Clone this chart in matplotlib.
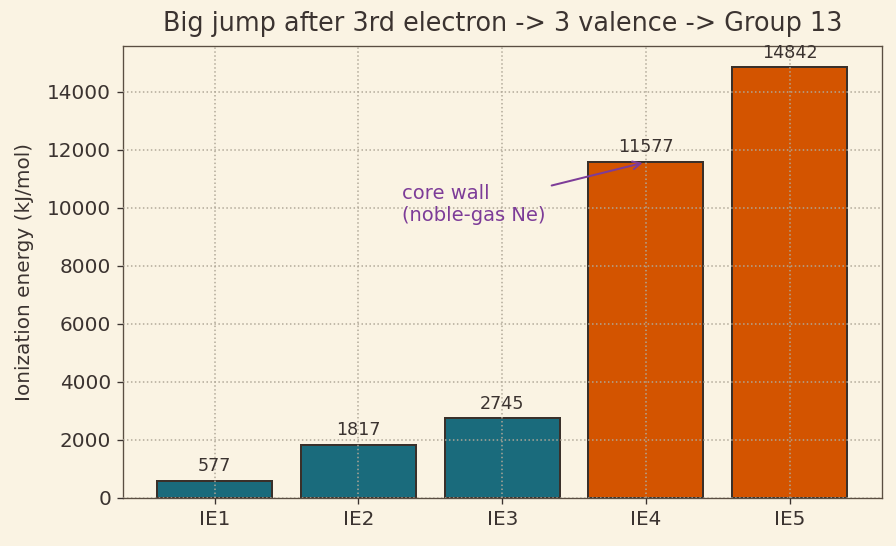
import numpy as np
from matplotlib import pyplot as plt

labels = ['IE1', 'IE2', 'IE3', 'IE4', 'IE5']
energies = [577, 1817, 2745, 11577, 14842]
valence = [True, True, True, False, False]

bg = '#faf3e3'
txt = '#3b3330'
teal = '#1a6b7c'
orange = '#d35400'

fig, ax = plt.subplots(figsize=(896 / 120, 546 / 120), dpi=120)
fig.patch.set_facecolor(bg)
ax.set_facecolor(bg)

x = np.arange(len(labels))
colors = [teal if v else orange for v in valence]
bars = ax.bar(x, energies, 0.8, color=colors, edgecolor='#3a302a', linewidth=1.2, zorder=1)
for xi, e in zip(x, energies):
    ax.text(xi, e + 200, str(e), ha='center', va='bottom', fontsize=10.5, color=txt)

ax.set_xticks(x)
ax.set_xticklabels(labels)
ax.set_xlim(-0.64, 4.64)
ax.set_ylim(0, max(energies) * 1.05)
ax.set_ylabel('Ionization energy (kJ/mol)', fontsize=12, color=txt, labelpad=8)
ax.set_title('Big jump after 3rd electron -> 3 valence -> Group 13', fontsize=15.3, color=txt, pad=9)
ax.grid(True, linestyle=':', color='#b0a898', linewidth=0.9, zorder=3)
ax.set_axisbelow(False)
ax.tick_params(labelsize=12, colors=txt)
for s in ax.spines.values():
    s.set_color('#5a4e42')

ax.annotate('core wall\n(noble-gas Ne)', xy=(3, energies[3]), xytext=(1.3, 10100),
            ha='left', va='center', fontsize=11.7, color='#7d3c98',
            arrowprops=dict(arrowstyle='->', color='#7d3c98', lw=1.2))

fig.subplots_adjust(left=0.137, right=0.984, top=0.916, bottom=0.088)
plt.savefig('out.png', facecolor=bg)
